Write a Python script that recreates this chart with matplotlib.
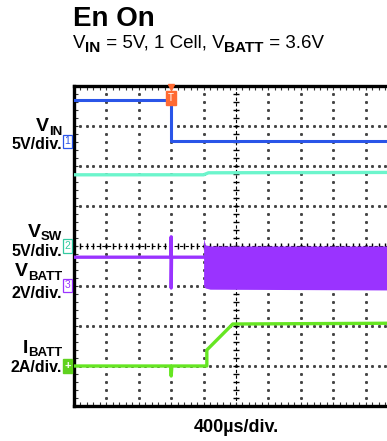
import numpy as np
import matplotlib
matplotlib.use("Agg")
import matplotlib.pyplot as plt
from matplotlib.ticker import MultipleLocator

plt.rcParams['font.family'] = ['Liberation Sans', 'DejaVu Sans']

# scope traces, in screen divisions (x: 0..10, y: -4..4)
t_vin = [0, 3.0, 3.0, 10]
vin = [3.65, 3.65, 2.62, 2.62]

t_ch2 = [0, 4.0, 4.15, 10]
ch2 = [1.78, 1.78, 1.83, 1.84]

t_vbatt = [0, 2.99, 3.0, 3.0, 3.01, 4.0]
vbatt = [-0.28, -0.28, 0.23, -1.05, -0.28, -0.28]

t_sw = [4.0, 4.05, 4.2, 10]
sw_top = [0.2, 0.03, 0.0, 0.0]
sw_bot = [-1.0, -1.05, -1.08, -1.1]

t_ibatt = [0, 2.98, 3.0, 3.02, 4.1, 4.1, 4.9, 10]
ibatt = [-3.0, -3.0, -3.25, -3.0, -3.0, -2.6, -1.95, -1.93]

# channel ground markers
ch_levels = [2.62, 0.0, -0.98, -3.0]
ch_names = ['1', '2', '3', '+']
ch_colors = ['#2a55e8', '#33c9a0', '#9a33ff', '#5fd21e']
trig_t = 3.0

W, H = 387, 441
fig = plt.figure(figsize=(W / 100, H / 100), dpi=100)
ax = fig.add_axes([74 / W, 1 - 406 / H, 324 / W, 320 / H])
ax.set_xlim(0, 10)
ax.set_ylim(-4, 4)
renderer = fig.canvas.get_renderer()


def runs_text(x, y, runs, ha='left'):
    # runs: (text, size, weight, drop in px); x, y in px from top-left, y = baseline
    objs = []
    for s, size, weight, dy in runs:
        t = fig.text(0, 1 - (y + dy) / H, s, fontsize=size, weight=weight, va='baseline')
        objs.append(t)
    widths = [t.get_window_extent(renderer).width for t in objs]
    cur = x - sum(widths) if ha == 'right' else x
    for t, w in zip(objs, widths):
        t.set_x(cur / W)
        cur += w


# grid dots
for gx in [1, 2, 3, 4, 6, 7, 8, 9]:
    yy = np.arange(-4, 4.01, 0.2)
    ax.plot(np.full_like(yy, gx), yy, ls='none', marker='s', ms=1.1, color='#444444', zorder=1)
for gy in [-3, -2, -1, 1, 2, 3]:
    xx = np.arange(0, 10.01, 0.2)
    ax.plot(xx, np.full_like(xx, gy), ls='none', marker='s', ms=1.1, color='#444444', zorder=1)

# center cross with ticks
ax.plot([5, 5], [-4, 4], color='k', lw=0.8, ls=(0, (3, 2)), zorder=1)
ax.plot([0, 10], [0, 0], color='k', lw=0.8, ls=(0, (3, 2)), zorder=1)
yy = np.arange(-4, 4.01, 0.2)
ax.plot(np.full_like(yy, 5), yy, ls='none', marker='_', ms=5, mew=1, color='k', zorder=1)
xx = np.arange(0, 10.01, 0.2)
ax.plot(xx, np.zeros_like(xx), ls='none', marker='|', ms=5, mew=1, color='k', zorder=1)

# traces
ax.plot(t_vin, vin, color='#2a55e8', lw=2.2, zorder=3)
ax.plot(t_ch2, ch2, color='#6cf5cc', lw=2.4, zorder=3)
ax.plot(t_vbatt, vbatt, color='#9a33ff', lw=2.4, zorder=3)
ax.fill_between(t_sw, sw_bot, sw_top, color='#9a33ff', lw=0, zorder=3)
ax.plot(t_ibatt, ibatt, color='#66e622', lw=2.4, zorder=3)

# trigger marker
ax.plot(trig_t, 3.97, marker='v', ms=5, color='#ff6a33', clip_on=False, zorder=5)
ax.text(trig_t, 3.7, 'T', ha='center', va='center', fontsize=7, color='white',
        bbox=dict(boxstyle='square,pad=0.2', fc='#ff6a33', ec='#ff6a33'), zorder=5)

# channel markers
for lvl, name, c in zip(ch_levels, ch_names, ch_colors):
    if name == '+':
        ax.text(-0.2, lvl, name, ha='center', va='center', fontsize=8, color='white', weight='bold',
                bbox=dict(boxstyle='square,pad=0.15', fc=c, ec=c), clip_on=False, zorder=5)
    else:
        ax.text(-0.2, lvl, name, ha='center', va='center', fontsize=7.5, color=c,
                bbox=dict(boxstyle='square,pad=0.15', fc='white', ec=c, lw=0.9), clip_on=False, zorder=5)

# frame
for s in ['left', 'top', 'bottom']:
    ax.spines[s].set_linewidth(2.4)
ax.spines['right'].set_visible(False)
ax.xaxis.set_major_locator(MultipleLocator(1))
ax.yaxis.set_major_locator(MultipleLocator(1))
ax.xaxis.set_minor_locator(MultipleLocator(0.2))
ax.yaxis.set_minor_locator(MultipleLocator(0.2))
ax.tick_params(which='both', direction='in', length=3, width=0.8, top=True, bottom=True,
               left=True, right=False, labelbottom=False, labelleft=False, colors='#333333')

# titles
fig.text(73 / W, 1 - 26 / H, 'En On', fontsize=20, weight='bold', va='baseline')
runs_text(73, 48, [('V', 13.5, 'normal', 0), ('IN', 11, 'bold', 4),
                   (' = 5V, 1 Cell, V', 13.5, 'normal', 0), ('BATT', 11, 'bold', 4),
                   (' = 3.6V', 13.5, 'normal', 0)])

# channel labels: (main, sub, baseline, drop, scale text, baseline)
labels = [('V', 'IN', 131, 4, '5V/div.', 149),
          ('V', 'SW', 237, 3, '5V/div.', 256),
          ('V', 'BATT', 276, 4, '2V/div.', 298),
          ('I', 'BATT', 353, 3, '2A/div.', 372)]
for main, sub, ty, dy, scale, by in labels:
    runs_text(62, ty, [(main, 14, 'bold', 0), (sub, 9.5, 'bold', dy)], ha='right')
    runs_text(62, by, [(scale, 11.5, 'bold', 0)], ha='right')

fig.text(236 / W, 1 - 432 / H, '400µs/div.', fontsize=13, weight='bold', ha='center', va='baseline')

fig.savefig('out.png', dpi=100)
